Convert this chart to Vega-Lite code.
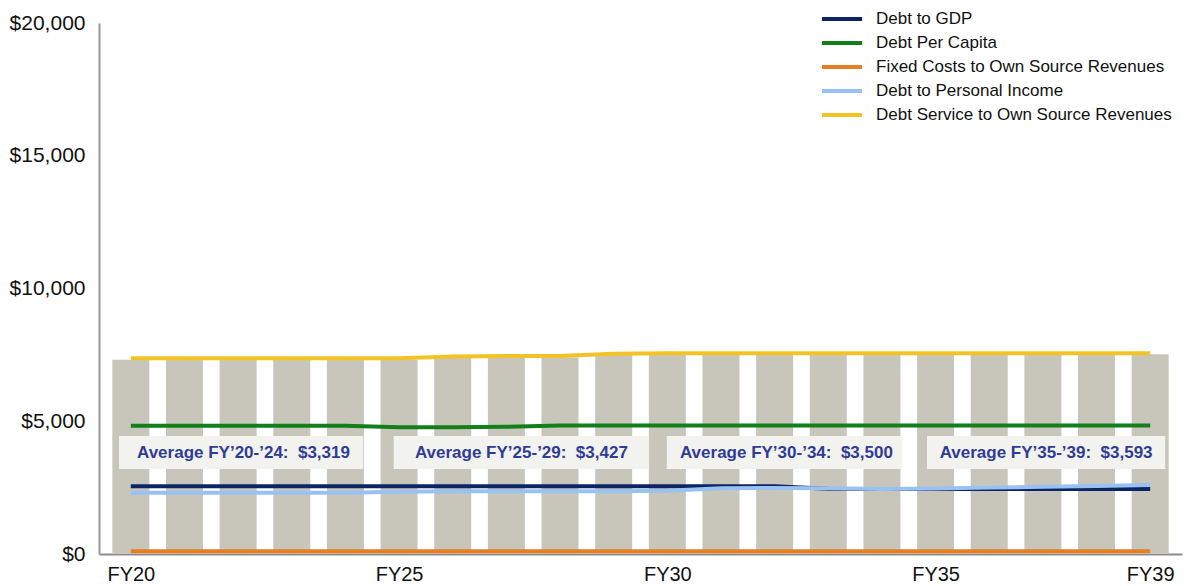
{
  "$schema": "https://vega.github.io/schema/vega-lite/v6.json",
  "width": 1192,
  "height": 586,
  "autosize": {"type": "fit", "contains": "padding"},
  "padding": {"left": 9, "right": 10, "top": 12, "bottom": 2},
  "background": "white",
  "config": {
    "view": {"stroke": null},
    "font": "Liberation Sans",
    "axis": {"labelFont": "Liberation Sans", "labelColor": "#111111", "grid": false, "ticks": false, "title": null}
  },
  "datasets": {
    "bars": [
      {"fy": 20, "value": 7320}, {"fy": 21, "value": 7320}, {"fy": 22, "value": 7320}, {"fy": 23, "value": 7320},
      {"fy": 24, "value": 7320}, {"fy": 25, "value": 7320}, {"fy": 26, "value": 7400}, {"fy": 27, "value": 7400},
      {"fy": 28, "value": 7400}, {"fy": 29, "value": 7520}, {"fy": 30, "value": 7520}, {"fy": 31, "value": 7520},
      {"fy": 32, "value": 7520}, {"fy": 33, "value": 7520}, {"fy": 34, "value": 7520}, {"fy": 35, "value": 7520},
      {"fy": 36, "value": 7520}, {"fy": 37, "value": 7520}, {"fy": 38, "value": 7520}, {"fy": 39, "value": 7520}
    ],
    "lines": [
      {"series": "Debt to GDP", "fy": 20, "value": 2550}, {"series": "Debt to GDP", "fy": 21, "value": 2550},
      {"series": "Debt to GDP", "fy": 22, "value": 2550}, {"series": "Debt to GDP", "fy": 23, "value": 2550},
      {"series": "Debt to GDP", "fy": 24, "value": 2550}, {"series": "Debt to GDP", "fy": 25, "value": 2550},
      {"series": "Debt to GDP", "fy": 26, "value": 2550}, {"series": "Debt to GDP", "fy": 27, "value": 2550},
      {"series": "Debt to GDP", "fy": 28, "value": 2550}, {"series": "Debt to GDP", "fy": 29, "value": 2550},
      {"series": "Debt to GDP", "fy": 30, "value": 2550}, {"series": "Debt to GDP", "fy": 31, "value": 2550},
      {"series": "Debt to GDP", "fy": 32, "value": 2550}, {"series": "Debt to GDP", "fy": 33, "value": 2460},
      {"series": "Debt to GDP", "fy": 34, "value": 2450}, {"series": "Debt to GDP", "fy": 35, "value": 2450},
      {"series": "Debt to GDP", "fy": 36, "value": 2450}, {"series": "Debt to GDP", "fy": 37, "value": 2450},
      {"series": "Debt to GDP", "fy": 38, "value": 2450}, {"series": "Debt to GDP", "fy": 39, "value": 2450},

      {"series": "Debt Per Capita", "fy": 20, "value": 4830}, {"series": "Debt Per Capita", "fy": 21, "value": 4830},
      {"series": "Debt Per Capita", "fy": 22, "value": 4830}, {"series": "Debt Per Capita", "fy": 23, "value": 4830},
      {"series": "Debt Per Capita", "fy": 24, "value": 4830}, {"series": "Debt Per Capita", "fy": 25, "value": 4770},
      {"series": "Debt Per Capita", "fy": 26, "value": 4770}, {"series": "Debt Per Capita", "fy": 27, "value": 4790},
      {"series": "Debt Per Capita", "fy": 28, "value": 4840}, {"series": "Debt Per Capita", "fy": 29, "value": 4840},
      {"series": "Debt Per Capita", "fy": 30, "value": 4840}, {"series": "Debt Per Capita", "fy": 31, "value": 4840},
      {"series": "Debt Per Capita", "fy": 32, "value": 4840}, {"series": "Debt Per Capita", "fy": 33, "value": 4840},
      {"series": "Debt Per Capita", "fy": 34, "value": 4840}, {"series": "Debt Per Capita", "fy": 35, "value": 4840},
      {"series": "Debt Per Capita", "fy": 36, "value": 4840}, {"series": "Debt Per Capita", "fy": 37, "value": 4840},
      {"series": "Debt Per Capita", "fy": 38, "value": 4840}, {"series": "Debt Per Capita", "fy": 39, "value": 4840},

      {"series": "Fixed Costs to Own Source Revenues", "fy": 20, "value": 100}, {"series": "Fixed Costs to Own Source Revenues", "fy": 21, "value": 100},
      {"series": "Fixed Costs to Own Source Revenues", "fy": 22, "value": 100}, {"series": "Fixed Costs to Own Source Revenues", "fy": 23, "value": 100},
      {"series": "Fixed Costs to Own Source Revenues", "fy": 24, "value": 100}, {"series": "Fixed Costs to Own Source Revenues", "fy": 25, "value": 100},
      {"series": "Fixed Costs to Own Source Revenues", "fy": 26, "value": 100}, {"series": "Fixed Costs to Own Source Revenues", "fy": 27, "value": 100},
      {"series": "Fixed Costs to Own Source Revenues", "fy": 28, "value": 100}, {"series": "Fixed Costs to Own Source Revenues", "fy": 29, "value": 100},
      {"series": "Fixed Costs to Own Source Revenues", "fy": 30, "value": 100}, {"series": "Fixed Costs to Own Source Revenues", "fy": 31, "value": 100},
      {"series": "Fixed Costs to Own Source Revenues", "fy": 32, "value": 100}, {"series": "Fixed Costs to Own Source Revenues", "fy": 33, "value": 100},
      {"series": "Fixed Costs to Own Source Revenues", "fy": 34, "value": 100}, {"series": "Fixed Costs to Own Source Revenues", "fy": 35, "value": 100},
      {"series": "Fixed Costs to Own Source Revenues", "fy": 36, "value": 100}, {"series": "Fixed Costs to Own Source Revenues", "fy": 37, "value": 100},
      {"series": "Fixed Costs to Own Source Revenues", "fy": 38, "value": 100}, {"series": "Fixed Costs to Own Source Revenues", "fy": 39, "value": 100},

      {"series": "Debt to Personal Income", "fy": 20, "value": 2310}, {"series": "Debt to Personal Income", "fy": 21, "value": 2310},
      {"series": "Debt to Personal Income", "fy": 22, "value": 2310}, {"series": "Debt to Personal Income", "fy": 23, "value": 2310},
      {"series": "Debt to Personal Income", "fy": 24, "value": 2310}, {"series": "Debt to Personal Income", "fy": 25, "value": 2340},
      {"series": "Debt to Personal Income", "fy": 26, "value": 2365}, {"series": "Debt to Personal Income", "fy": 27, "value": 2365},
      {"series": "Debt to Personal Income", "fy": 28, "value": 2365}, {"series": "Debt to Personal Income", "fy": 29, "value": 2365},
      {"series": "Debt to Personal Income", "fy": 30, "value": 2380}, {"series": "Debt to Personal Income", "fy": 31, "value": 2480},
      {"series": "Debt to Personal Income", "fy": 32, "value": 2490}, {"series": "Debt to Personal Income", "fy": 33, "value": 2480},
      {"series": "Debt to Personal Income", "fy": 34, "value": 2450}, {"series": "Debt to Personal Income", "fy": 35, "value": 2470},
      {"series": "Debt to Personal Income", "fy": 36, "value": 2500}, {"series": "Debt to Personal Income", "fy": 37, "value": 2530},
      {"series": "Debt to Personal Income", "fy": 38, "value": 2560}, {"series": "Debt to Personal Income", "fy": 39, "value": 2600},

      {"series": "Debt Service to Own Source Revenues", "fy": 20, "value": 7370}, {"series": "Debt Service to Own Source Revenues", "fy": 21, "value": 7370},
      {"series": "Debt Service to Own Source Revenues", "fy": 22, "value": 7370}, {"series": "Debt Service to Own Source Revenues", "fy": 23, "value": 7370},
      {"series": "Debt Service to Own Source Revenues", "fy": 24, "value": 7370}, {"series": "Debt Service to Own Source Revenues", "fy": 25, "value": 7370},
      {"series": "Debt Service to Own Source Revenues", "fy": 26, "value": 7440}, {"series": "Debt Service to Own Source Revenues", "fy": 27, "value": 7460},
      {"series": "Debt Service to Own Source Revenues", "fy": 28, "value": 7460}, {"series": "Debt Service to Own Source Revenues", "fy": 29, "value": 7540},
      {"series": "Debt Service to Own Source Revenues", "fy": 30, "value": 7560}, {"series": "Debt Service to Own Source Revenues", "fy": 31, "value": 7560},
      {"series": "Debt Service to Own Source Revenues", "fy": 32, "value": 7560}, {"series": "Debt Service to Own Source Revenues", "fy": 33, "value": 7560},
      {"series": "Debt Service to Own Source Revenues", "fy": 34, "value": 7560}, {"series": "Debt Service to Own Source Revenues", "fy": 35, "value": 7560},
      {"series": "Debt Service to Own Source Revenues", "fy": 36, "value": 7560}, {"series": "Debt Service to Own Source Revenues", "fy": 37, "value": 7560},
      {"series": "Debt Service to Own Source Revenues", "fy": 38, "value": 7560}, {"series": "Debt Service to Own Source Revenues", "fy": 39, "value": 7560}
    ],
    "notes": [
      {"x0": 19.78, "x1": 24.33, "xm": 22.1, "y0": 3200, "y1": 4444, "ym": 3815, "label": "Average FY’20-’24:\u00a0 $3,319"},
      {"x0": 24.9, "x1": 29.66, "xm": 27.28, "y0": 3200, "y1": 4444, "ym": 3815, "label": "Average FY’25-’29:\u00a0 $3,427"},
      {"x0": 29.99, "x1": 34.38, "xm": 32.22, "y0": 3200, "y1": 4444, "ym": 3815, "label": "Average FY’30-’34:\u00a0 $3,500"},
      {"x0": 34.84, "x1": 39.28, "xm": 37.06, "y0": 3200, "y1": 4444, "ym": 3815, "label": "Average FY’35-’39:\u00a0 $3,593"}
    ]
  },
  "layer": [
    {
      "data": {"name": "bars"},
      "mark": {"type": "bar", "orient": "vertical", "width": 37, "color": "#C8C6BA"},
      "encoding": {
        "x": {
          "field": "fy", "type": "quantitative",
          "scale": {"domain": [19.5, 39.5], "nice": false, "zero": false},
          "axis": {
            "values": [20, 25, 30, 35, 39],
            "labelExpr": "'FY' + datum.value",
            "labelFontSize": 20, "labelPadding": 10, "labelFlush": false,
            "domainColor": "#8C8C8C", "domainWidth": 2
          }
        },
        "y": {
          "field": "value", "type": "quantitative",
          "scale": {"domain": [0, 20000], "nice": false},
          "axis": {
            "values": [0, 5000, 10000, 15000, 20000],
            "format": "$,.0f",
            "labelFontSize": 21, "labelPadding": 14,
            "domainColor": "#9A9A9A", "domainWidth": 2
          }
        }
      }
    },
    {
      "data": {"name": "notes"},
      "mark": {"type": "rect", "color": "#F2F2EE"},
      "encoding": {
        "x": {"field": "x0", "type": "quantitative"},
        "x2": {"field": "x1"},
        "y": {"field": "y0", "type": "quantitative"},
        "y2": {"field": "y1"}
      }
    },
    {
      "data": {"name": "notes"},
      "mark": {"type": "text", "font": "Liberation Sans", "fontWeight": "bold", "fontSize": 17, "color": "#2F3C96", "align": "center", "baseline": "middle"},
      "encoding": {
        "x": {"field": "xm", "type": "quantitative"},
        "y": {"field": "ym", "type": "quantitative"},
        "text": {"field": "label"}
      }
    },
    {
      "data": {"name": "lines"},
      "mark": {"type": "line", "strokeWidth": 4},
      "encoding": {
        "x": {"field": "fy", "type": "quantitative"},
        "y": {"field": "value", "type": "quantitative"},
        "color": {
          "field": "series", "type": "nominal",
          "scale": {
            "domain": ["Debt to GDP", "Debt Per Capita", "Fixed Costs to Own Source Revenues", "Debt to Personal Income", "Debt Service to Own Source Revenues"],
            "range": ["#0B2466", "#11801A", "#E67E22", "#99C1F1", "#F3C326"]
          },
          "legend": {
            "orient": "none", "legendX": 721, "legendY": -16,
            "title": null, "padding": 0,
            "symbolType": "stroke", "symbolSize": 1600, "symbolStrokeWidth": 4,
            "labelFont": "Liberation Sans", "labelFontSize": 17, "labelColor": "#111111", "labelOffset": 12, "labelLimit": 400,
            "clipHeight": 24, "rowPadding": 0
          }
        }
      }
    }
  ]
}
